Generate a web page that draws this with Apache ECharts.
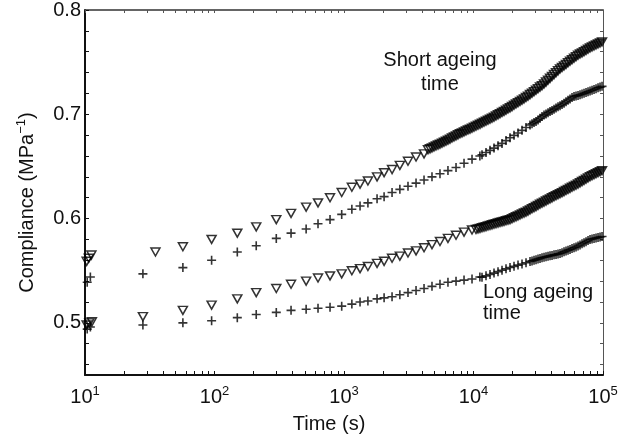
<!DOCTYPE html>
<html><head><meta charset="utf-8">
<script src="https://cdn.jsdelivr.net/npm/echarts@6/dist/echarts.min.js"></script>
<style>html,body{margin:0;padding:0;background:#fff}#c{width:624px;height:439px}</style>
</head><body><div id="c"></div>
<script>
// ---- time values (s) ----
const earlyTimeUT = [10.3, 10.7, 11.2, 35, 57];
const earlyTimeUP = [10.4, 11, 28, 57];
const earlyTimeLT = [10.3, 10.8, 11.3, 28, 57];
const earlyTimeLP = [10.4, 11, 28, 57];
const timeSparse = [95,150,210,300,390,510,630,780,960,1150,1330,1530,1800,2040,2350,2700,3120,3600,4150,4780,5510,6350,7330,8450,9740,11200];
const timeDense = [4453,4614,4781,4954,5134,5320,5512,5712,5919,6133,6355,6585,6824,7071,7327,7592,7867,8152,8447,8753,9070,9398,9738,10091,10456,10835,11227,11634,12055,12491,12944,13412,13898,14401,14923,15463,16023,16603,17204,17827,18473,19142,19835,20553,21297,22068,22867,23695,24553,25442,26363,27318,28307,29332,30394,31494,32634,33816,35040,36309,37624,38986,40397,41860,43375,44946,46573,48259,50006,51817,53693,55637,57651,59738,61901,64142,66464,68871,71364,73948,76625,79399,82274,85253,88339,91538,94852,98286];

// ---- compliance values (MPa^-1) ----
// short ageing time, triangles
const upTriEarly = [0.559,0.562,0.565,0.568,0.573];
const upTriSparse = [0.580,0.586,0.592,0.599,0.605,0.611,0.615,0.620,0.625,0.630,0.633,0.636,0.640,0.644,0.647,0.651,0.655,0.659,0.662];
const upTriDense = [0.6660,0.6669,0.6678,0.6687,0.6696,0.6705,0.6714,0.6723,0.6732,0.6742,0.6752,0.6762,0.6773,0.6783,0.6793,0.6803,0.6813,0.6822,0.6831,0.6840,0.6849,0.6858,0.6867,0.6876,0.6885,0.6895,0.6904,0.6914,0.6924,0.6933,0.6943,0.6952,0.6962,0.6973,0.6984,0.6995,0.7006,0.7017,0.7028,0.7040,0.7051,0.7062,0.7074,0.7087,0.7099,0.7111,0.7124,0.7136,0.7148,0.7161,0.7174,0.7189,0.7203,0.7217,0.7232,0.7246,0.7261,0.7275,0.7291,0.7309,0.7327,0.7345,0.7363,0.7381,0.7399,0.7417,0.7435,0.7450,0.7464,0.7479,0.7494,0.7509,0.7523,0.7538,0.7553,0.7566,0.7578,0.7589,0.7601,0.7613,0.7624,0.7636,0.7646,0.7655,0.7665,0.7675,0.7684,0.7694];
// short ageing time, crosses
const upPlusEarly = [0.539,0.544,0.547,0.553];
const upPlusSparse = [0.560,0.568,0.574,0.581,0.586,0.590,0.595,0.599,0.604,0.609,0.612,0.615,0.619,0.621,0.625,0.628,0.631,0.634,0.637,0.640,0.643,0.646,0.649,0.653,0.657,0.660];
const upPlusDense = [0.6612,0.6633,0.6654,0.6676,0.6699,0.6721,0.6748,0.6775,0.6798,0.6821,0.6846,0.6873,0.6897,0.6909,0.6921,0.6932,0.6946,0.6962,0.6978,0.6992,0.7003,0.7015,0.7026,0.7037,0.7049,0.7060,0.7072,0.7083,0.7094,0.7107,0.7120,0.7134,0.7147,0.7160,0.7170,0.7176,0.7181,0.7187,0.7194,0.7201,0.7208,0.7215,0.7223,0.7230,0.7238,0.7246,0.7254,0.7261,0.7268];
// long ageing time, triangles
const loTriEarly = [0.498,0.500,0.501,0.506,0.512];
const loTriSparse = [0.517,0.523,0.529,0.533,0.537,0.540,0.543,0.545,0.547,0.550,0.552,0.554,0.557,0.559,0.562,0.564,0.567,0.569,0.572,0.575,0.578,0.581,0.584,0.587,0.589];
const loTriDense = [0.5895,0.5901,0.5906,0.5912,0.5918,0.5923,0.5929,0.5934,0.5940,0.5946,0.5951,0.5957,0.5962,0.5968,0.5973,0.5979,0.5984,0.5990,0.5999,0.6008,0.6017,0.6026,0.6035,0.6044,0.6053,0.6062,0.6072,0.6083,0.6094,0.6105,0.6115,0.6126,0.6137,0.6148,0.6158,0.6168,0.6178,0.6188,0.6199,0.6209,0.6219,0.6229,0.6239,0.6249,0.6259,0.6269,0.6279,0.6290,0.6300,0.6310,0.6320,0.6331,0.6343,0.6355,0.6366,0.6378,0.6390,0.6402,0.6412,0.6421,0.6431,0.6440,0.6450,0.6459];
// long ageing time, crosses
const loPlusEarly = [0.494,0.496,0.498,0.500];
const loPlusSparse = [0.502,0.505,0.508,0.510,0.512,0.513,0.514,0.515,0.516,0.518,0.520,0.521,0.523,0.524,0.525,0.527,0.529,0.531,0.533,0.535,0.537,0.539,0.540,0.541,0.542,0.544];
const loPlusDense = [0.5438,0.5451,0.5464,0.5477,0.5491,0.5504,0.5518,0.5531,0.5542,0.5554,0.5565,0.5576,0.5588,0.5594,0.5600,0.5606,0.5612,0.5618,0.5624,0.5629,0.5634,0.5638,0.5643,0.5647,0.5652,0.5656,0.5661,0.5665,0.5673,0.5681,0.5689,0.5697,0.5704,0.5712,0.5720,0.5728,0.5737,0.5747,0.5758,0.5768,0.5778,0.5789,0.5799,0.5804,0.5809,0.5814,0.5818,0.5823,0.5828];

// ---- axis ticks ----
const yTickValues = [0.46,0.48,0.50,0.52,0.54,0.56,0.58,0.60,0.62,0.64,0.66,0.68,0.70,0.72,0.74,0.76,0.78,0.80];
const yLabelValues = [0.5,0.6,0.7,0.8];
const xDecades = [10,100,1000,10000,100000];
const xTickValues = [];
xDecades.forEach((d,i)=>{ if(i<xDecades.length-1){ for(let m=1;m<10;m++) xTickValues.push(d*m); } else xTickValues.push(d); });

function pairs(times, vals){ return times.map((t,i)=>[t, vals[i]]); }
// crosses were logged less often until ~3e4 s
const plusDenseTimes = timeDense.filter((t,k)=> k>=27 && (k>=52 || (k-27)%2===0));
const upTri = pairs(earlyTimeUT.concat(timeSparse.slice(0,19), timeDense), upTriEarly.concat(upTriSparse, upTriDense));
const upPlus = pairs(earlyTimeUP.concat(timeSparse, plusDenseTimes), upPlusEarly.concat(upPlusSparse, upPlusDense));
const loTri = pairs(earlyTimeLT.concat(timeSparse.slice(0,25), timeDense.slice(24)), loTriEarly.concat(loTriSparse, loTriDense));
const loPlus = pairs(earlyTimeLP.concat(timeSparse, plusDenseTimes), loPlusEarly.concat(loPlusSparse, loPlusDense));

const FONT = '"Liberation Sans", Arial, sans-serif';
const INK = '#111';
const plusPath = 'path://M4.1,0h1.8v4.1h4.1v1.8h-4.1v4.1h-1.8v-4.1h-4.1v-1.8h4.1z';
const triStyle = {type:'scatter', symbol:'triangle', symbolRotate:180, symbolSize:[9,8],
  itemStyle:{color:'rgba(0,0,0,0)', borderColor:'#000', borderWidth:1.5}, silent:true, animation:false};
const plusStyle = {type:'scatter', symbol:plusPath, symbolSize:9,
  itemStyle:{color:'#000'}, silent:true, animation:false};

const chart = echarts.init(document.getElementById('c'));
chart.setOption({
  backgroundColor:'#fff',
  animation:false,
  grid:{left:85, right:21, top:10, bottom:64},
  xAxis:[{
    type:'log', logBase:10, min:10, max:100000, position:'bottom',
    axisLine:{show:true, lineStyle:{color:INK, width:2}},
    axisTick:{show:true, inside:true, length:4, customValues:xTickValues, lineStyle:{color:INK, width:1}},
    splitLine:{show:false},
    axisLabel:{show:true, customValues:xDecades, margin:10,
      formatter:function(v){ return '{b|10}{s|' + Math.round(Math.log10(v)) + '}'; },
      rich:{b:{fontSize:20, fontFamily:FONT, color:INK}, s:{fontSize:13, fontFamily:FONT, color:INK, padding:[0,0,11,0]}}},
    name:'Time (s)', nameLocation:'middle', nameGap:39,
    nameTextStyle:{fontSize:20, fontFamily:FONT, color:INK, padding:[0,30,0,0]}
  },{
    type:'log', logBase:10, min:10, max:100000, position:'top',
    axisLine:{show:true, lineStyle:{color:'#333', width:1.5}},
    axisTick:{show:true, inside:true, length:3, customValues:xTickValues, lineStyle:{color:'#555'}},
    axisLabel:{show:false}, splitLine:{show:false}
  }],
  yAxis:[{
    type:'value', min:0.45, max:0.8, position:'left',
    axisLine:{show:true, lineStyle:{color:INK, width:2}},
    axisTick:{show:true, inside:true, length:4, customValues:yTickValues, lineStyle:{color:INK}},
    splitLine:{show:false},
    axisLabel:{show:true, customValues:yLabelValues, margin:4, fontSize:20, fontFamily:FONT, color:INK,
      formatter:function(v){ return v.toFixed(1); }},
    name:'{t|Compliance (MPa}{s|−1}{t|)}', nameLocation:'middle', nameRotate:90, nameGap:46,
    nameTextStyle:{padding:[0,20,0,0], rich:{t:{fontSize:20, fontFamily:FONT, color:INK}, s:{fontSize:13, fontFamily:FONT, color:INK, padding:[0,0,11,0]}}}
  },{
    type:'value', min:0.45, max:0.8, position:'right',
    axisLine:{show:true, lineStyle:{color:'#555', width:1}},
    axisTick:{show:true, inside:true, length:3, customValues:yTickValues, lineStyle:{color:'#555'}},
    axisLabel:{show:false}, splitLine:{show:false}
  }],
  series:[
    Object.assign({name:'Short ageing ▽', data:upTri}, triStyle),
    Object.assign({name:'Short ageing +', data:upPlus}, plusStyle),
    Object.assign({name:'Long ageing ▽', data:loTri}, triStyle),
    Object.assign({name:'Long ageing +', data:loPlus}, plusStyle)
  ],
  graphic:[
    {type:'text', x:440, y:72, silent:true,
      style:{text:'Short ageing\ntime', textAlign:'center', textVerticalAlign:'middle', font:'20px ' + FONT, fill:INK, lineHeight:24}},
    {type:'text', x:483, y:303, silent:true,
      style:{text:'Long ageing\ntime', textAlign:'left', textVerticalAlign:'middle', font:'20px ' + FONT, fill:INK, lineHeight:21}}
  ]
});
</script></body></html>
